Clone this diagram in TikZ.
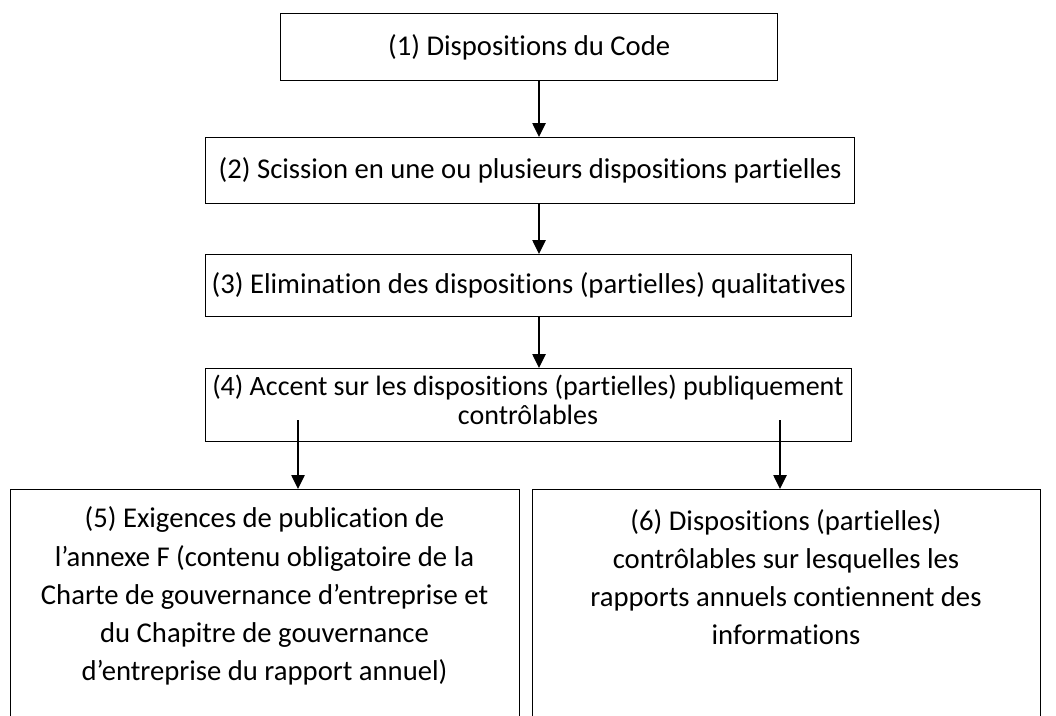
\documentclass[tikz,border=0pt]{standalone}
\usepackage{fontspec}
\setmainfont{Carlito}[Ligatures=NoCommon]
\usetikzlibrary{arrows.meta}
\begin{document}
\begin{tikzpicture}[x=0.75pt,y=-0.75pt,
  frame/.style={draw, line width=1.1pt, rectangle, inner sep=0pt, anchor=north west},
  txt/.style={align=center, inner sep=0pt, font=\fontsize{21.5}{28.6}\selectfont},
  arr/.style={line width=1.1pt, -{Triangle[length=10.5pt,width=10pt]}}]
\useasboundingbox (0,0) rectangle (1056,715);
% boxes
\node[frame, minimum width=372.75pt, minimum height=50.25pt] (box1) at (280,13) {};
\node[frame, minimum width=486.75pt, minimum height=49.5pt] (box2) at (205,137) {};
\node[frame, minimum width=484.5pt, minimum height=46.5pt] (box3) at (205,254) {};
\node[frame, minimum width=484.5pt, minimum height=54.75pt] (box4) at (205,368) {};
\node[frame, minimum width=381.75pt, minimum height=180pt] (box5) at (10,489) {};
\node[frame, minimum width=381pt, minimum height=180pt] (box6) at (532,489) {};
% texts
\node[txt] (t1) at (box1.center) {(1) Dispositions du Code};
\node[txt] (t2) at (box2.center) {(2) Scission en une ou plusieurs dispositions partielles};
\node[txt] (t3) at (box3.center) {(3) Elimination des dispositions (partielles) qualitatives};
\node[txt, font=\fontsize{21}{21.5}\selectfont, anchor=center] (t4) at (528,400) {(4) Accent sur les dispositions (partielles) publiquement\\contrôlables};
\node[txt, anchor=center] (t5) at (264.5,596) {(5) Exigences de publication de\\l’annexe F (contenu obligatoire de la\\Charte de gouvernance d’entreprise et\\du Chapitre de gouvernance\\d’entreprise du rapport annuel)};
\node[txt, anchor=center] (t6) at (786,577) {(6) Dispositions (partielles)\\contrôlables sur lesquelles les\\rapports annuels contiennent des\\informations};
% connectors
\coordinate (mid) at (539,0);
\coordinate (l4) at (298,420);
\coordinate (r4) at (780,420);
\draw[arr] (box1.south -| mid) -- (box2.north -| mid);
\draw[arr] (box2.south -| mid) -- (box3.north -| mid);
\draw[arr] (box3.south -| mid) -- (box4.north -| mid);
\draw[arr] (l4) -- (box5.north -| l4);
\draw[arr] (r4) -- (box6.north -| r4);
\end{tikzpicture}
\end{document}
